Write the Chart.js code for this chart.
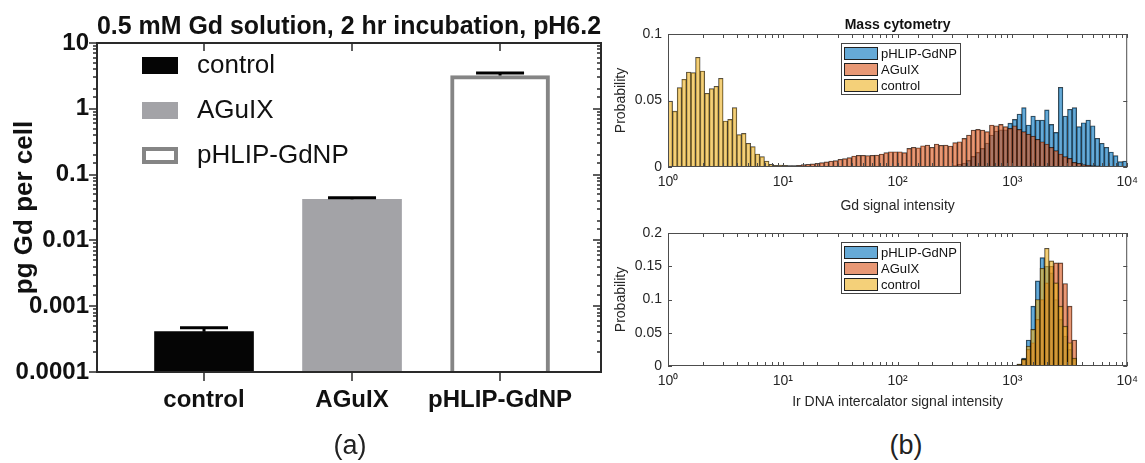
<!DOCTYPE html>
<html lang="en">
<head>
    <meta charset="UTF-8" />
    <title>Gd uptake and mass cytometry</title>
    <style>
        body { margin: 0; width: 1145px; height: 463px; background: #fff; position: relative; overflow: hidden;
               font-family: "Liberation Sans", Arial, sans-serif; }
        canvas { position: absolute; }
        .panel { position: absolute; font-size: 27px; color: #222; transform: translate(-50%, -50%); }
    </style>
</head>
<body>
    <canvas id="uptakeChart" width="620" height="430" style="left:0;top:0;"></canvas>
    <canvas id="gdChart" width="545" height="220" style="left:600px;top:0;"></canvas>
    <canvas id="irChart" width="545" height="205" style="left:600px;top:215px;"></canvas>
    <div class="panel" style="left:350px;top:445px;">(a)</div>
    <div class="panel" style="left:906px;top:445px;">(b)</div>

    <script src="https://cdn.jsdelivr.net/npm/chart.js"></script>
    <script>
        // ---- (a) Gd per cell ----
        const groups = ['control', 'AGuIX', 'pHLIP-GdNP'];
        const gdPerCell = [0.00041, 0.042, 3.2];
        const gdPerCellHigh = [0.00047, 0.0445, 3.5];   // top of error bar

        // ---- (b) mass cytometry histograms, bins of 0.04 decades starting at 10^0 ----
        const binWidthDec = 0.04;

        const gdControlStart = 0;
        const gdControl = [0.0496, 0.042, 0.0597, 0.066, 0.0714, 0.0709, 0.0825, 0.0722, 0.0554, 0.0589,
                           0.0607, 0.0667, 0.0346, 0.0358, 0.0446, 0.0243, 0.0253, 0.0178, 0.0153, 0.0098,
                           0.0078, 0.0045, 0.002, 0.0013, 0.0015, 0.0012, 0.001, 0.0008, 0.0005, 0.0003];
        const gdAguixStart = 24;
        const gdAguix = [0.0003, 0.0005, 0.0008, 0.001, 0.0013, 0.0018, 0.002, 0.0023, 0.0028, 0.0033,
                         0.0038, 0.0045, 0.0048, 0.0058, 0.0063, 0.007, 0.0083, 0.0088, 0.0088, 0.0086,
                         0.0088, 0.009, 0.0098, 0.0108, 0.0115, 0.0115, 0.0115, 0.0108, 0.014, 0.0148,
                         0.0145, 0.016, 0.0165, 0.0148, 0.0173, 0.0163, 0.0165, 0.0158, 0.0183, 0.019,
                         0.0215, 0.024, 0.0278, 0.0283, 0.0278, 0.0266, 0.0316, 0.031, 0.032, 0.0303,
                         0.029, 0.031, 0.0283, 0.0266, 0.0248, 0.0233, 0.0208, 0.019, 0.0173, 0.0148,
                         0.0123, 0.0098, 0.0078, 0.0065, 0.0035, 0.0028, 0.0018, 0.0015, 0.001, 0.0008,
                         0.0005, 0.0005, 0.0004, 0.0003, 0.0002, 0.0002];
        const gdPhlipStart = 62;
        const gdPhlip = [0.001, 0.002, 0.003, 0.005, 0.008, 0.011, 0.014, 0.018, 0.024, 0.027,
                         0.028, 0.028, 0.033, 0.0358, 0.0398, 0.0446, 0.0316, 0.0383, 0.0353, 0.0353,
                         0.0429, 0.032, 0.026, 0.0599, 0.0383, 0.0434, 0.0446, 0.0303, 0.0333, 0.0353,
                         0.031, 0.0216, 0.0178, 0.0148, 0.0113, 0.0085, 0.004, 0.0045];

        const irStart = 76;
        const irPhlip = [0.003, 0.012, 0.039, 0.090, 0.128, 0.163, 0.150, 0.140, 0.100, 0.070, 0.045, 0.025, 0.010];
        const irAguix = [0.002, 0.010, 0.025, 0.035, 0.070, 0.100, 0.125, 0.150, 0.155, 0.155, 0.124, 0.090, 0.039];
        const irControl = [0.003, 0.010, 0.030, 0.055, 0.100, 0.147, 0.177, 0.158, 0.125, 0.090, 0.060, 0.035, 0.012];

        const phlipColor = 'rgba(0, 114, 189, 0.6)';
        const aguixColor = 'rgba(217, 83, 25, 0.6)';
        const controlColor = 'rgba(237, 177, 32, 0.6)';
        const histEdge = 'rgba(0, 0, 0, 0.75)';

        const FONT = '"Liberation Sans", Arial, sans-serif';
        Chart.defaults.font.family = FONT;
        Chart.defaults.color = '#111';

        const isDecade = v => Math.abs(Math.log10(v) - Math.round(Math.log10(v))) < 1e-6;
        const supDigits = { '0': '\u2070', '1': '\u00b9', '2': '\u00b2', '3': '\u00b3', '4': '\u2074' };

        // frame + ticks for the GraphPad style panel
        const prismFrame = {
            id: 'prismFrame',
            afterDatasetsDraw(chart) {
                const { ctx, chartArea: a, scales: { x, y } } = chart;
                ctx.save();
                ctx.strokeStyle = '#2a2a2a';
                ctx.lineWidth = 2;
                ctx.strokeRect(a.left, a.top, a.right - a.left, a.bottom - a.top);
                ctx.beginPath();
                y.ticks.forEach(t => {
                    const py = Math.round(y.getPixelForValue(t.value));
                    const len = isDecade(t.value) ? 8 : 4;
                    ctx.moveTo(a.left - len, py); ctx.lineTo(a.left, py);
                    ctx.moveTo(a.right, py); ctx.lineTo(a.right - len, py);
                });
                x.ticks.forEach(t => {
                    const px = Math.round(x.getPixelForValue(t.value));
                    ctx.moveTo(px, a.bottom); ctx.lineTo(px, a.bottom + 9);
                    ctx.moveTo(px, a.top); ctx.lineTo(px, a.top + 8);
                });
                ctx.lineWidth = 1.5;
                ctx.stroke();
                ctx.restore();
            }
        };

        const errorCaps = {
            id: 'errorCaps',
            afterDatasetsDraw(chart) {
                const { ctx, scales: { x, y } } = chart;
                ctx.save();
                ctx.strokeStyle = '#000';
                ctx.lineWidth = 3;
                gdPerCell.forEach((v, i) => {
                    const px = x.getPixelForValue(i + 1);
                    const top = y.getPixelForValue(gdPerCellHigh[i]);
                    ctx.beginPath();
                    ctx.moveTo(px, y.getPixelForValue(v));
                    ctx.lineTo(px, top);
                    ctx.moveTo(px - 24, top);
                    ctx.lineTo(px + 24, top);
                    ctx.stroke();
                });
                ctx.restore();
            }
        };

        const prismLegend = {
            id: 'prismLegend',
            afterDraw(chart) {
                const { ctx } = chart;
                const ds = chart.data.datasets[0];
                ctx.save();
                ctx.font = '26px ' + FONT;
                ctx.textBaseline = 'middle';
                groups.forEach((g, i) => {
                    const top = 57 + i * 45;
                    ctx.fillStyle = ds.backgroundColor[i];
                    ctx.fillRect(142, top, 36, 17);
                    if (ds.borderWidth[i] > 0) {
                        ctx.strokeStyle = ds.borderColor[i];
                        ctx.lineWidth = 4;
                        ctx.strokeRect(144, top + 2, 32, 13);
                    }
                    ctx.fillStyle = '#111';
                    ctx.fillText(g, 197, top + 9);
                });
                ctx.restore();
            }
        };

        new Chart(document.getElementById('uptakeChart'), {
            type: 'bar',
            data: {
                datasets: [{
                    data: gdPerCell.map((v, i) => ({ x: i + 1, y: v })),
                    backgroundColor: ['#050505', '#a3a3a7', '#ffffff'],
                    borderColor: ['#050505', '#a3a3a7', '#858585'],
                    borderWidth: [0, 0, 4],
                    barThickness: 99
                }]
            },
            options: {
                responsive: false,
                animation: false,
                layout: { padding: { left: 0, right: 19, top: 0, bottom: 0 } },
                plugins: {
                    legend: { display: false },
                    tooltip: { enabled: false },
                    title: {
                        display: true, fullSize: false, color: '#111',
                        text: '0.5 mM Gd solution, 2 hr incubation, pH6.2',
                        font: { size: 25, weight: 'bold', lineHeight: '26px' },
                        padding: { top: 14, bottom: 3 }
                    }
                },
                scales: {
                    x: {
                        type: 'linear', min: 0.277, max: 3.682, offset: false,
                        grid: { display: false, drawTicks: false }, border: { display: false },
                        afterBuildTicks: s => { s.ticks = groups.map((g, i) => ({ value: i + 1 })); },
                        afterFit: s => { s.height = 58; },
                        ticks: {
                            autoSkip: false, maxRotation: 0, padding: 14, color: '#111',
                            font: { size: 24, weight: 'bold' },
                            callback: v => groups[v - 1]
                        }
                    },
                    y: {
                        type: 'logarithmic', min: 0.0001, max: 10,
                        grid: { display: false, drawTicks: false }, border: { display: false },
                        afterFit: s => { s.width = 97; },
                        ticks: {
                            autoSkip: false, padding: 8, color: '#111',
                            font: { size: 24, weight: 'bold' },
                            callback: v => isDecade(v) ? String(Number(v.toPrecision(1))) : ''
                        },
                        title: {
                            display: true, text: 'pg Gd per cell', color: '#111',
                            font: { size: 26, weight: 'bold' },
                            padding: { top: 9, bottom: 0 }
                        }
                    }
                }
            },
            plugins: [errorCaps, prismFrame, prismLegend]
        });

        // ---- MATLAB style histograms ----
        function histPoints(start, values) {
            return values.map((p, k) => ({ x: Math.pow(10, (start + k + 0.5) * binWidthDec), y: p }));
        }

        function histDataset(label, color, start, values) {
            return {
                label, data: histPoints(start, values),
                backgroundColor: color, borderColor: histEdge, borderWidth: 0.7,
                borderSkipped: false, grouped: false,
                categoryPercentage: 1, barPercentage: 1
            };
        }

        const matlabBox = {
            id: 'matlabBox',
            afterDatasetsDraw(chart) {
                const { ctx, chartArea: a, scales: { x, y } } = chart;
                ctx.save();
                ctx.strokeStyle = '#4d4d4d';
                ctx.lineWidth = 1;
                ctx.beginPath();
                x.ticks.forEach(t => {
                    const px = Math.round(x.getPixelForValue(t.value)) + 0.5;
                    ctx.moveTo(px, a.bottom); ctx.lineTo(px, a.bottom - 4);
                    ctx.moveTo(px, a.top); ctx.lineTo(px, a.top + 4);
                });
                y.ticks.forEach(t => {
                    const py = Math.round(y.getPixelForValue(t.value)) + 0.5;
                    ctx.moveTo(a.left, py); ctx.lineTo(a.left + 4, py);
                    ctx.moveTo(a.right, py); ctx.lineTo(a.right - 4, py);
                });
                ctx.stroke();
                ctx.strokeRect(a.left + 0.5, a.top + 0.5, a.right - a.left - 1, a.bottom - a.top - 1);
                ctx.restore();
            }
        };

        const matlabLegend = {
            id: 'matlabLegend',
            afterDraw(chart) {
                const { ctx, chartArea: a } = chart;
                const left = a.left + 173, top = a.top + 9;
                const entries = chart.data.datasets.slice().reverse();
                ctx.save();
                ctx.fillStyle = '#fff';
                ctx.fillRect(left, top, 119, 51);
                ctx.strokeStyle = '#444';
                ctx.lineWidth = 1;
                ctx.strokeRect(left + 0.5, top + 0.5, 119, 51);
                ctx.font = '13px ' + FONT;
                ctx.textBaseline = 'middle';
                entries.forEach((d, i) => {
                    const ry = top + 4 + i * 16;
                    ctx.fillStyle = d.backgroundColor;
                    ctx.fillRect(left + 3, ry, 34, 13);
                    ctx.strokeStyle = '#222';
                    ctx.strokeRect(left + 3.5, ry + 0.5, 33, 12);
                    ctx.fillStyle = '#111';
                    ctx.fillText(d.label, left + 40, ry + 7);
                });
                ctx.restore();
            }
        };

        function histOptions(title, xTitle, yMax, xTitlePad, padTop) {
            return {
                responsive: false,
                animation: false,
                layout: { padding: { left: 0, right: 13, top: padTop, bottom: 0 } },
                plugins: {
                    legend: { display: false },
                    tooltip: { enabled: false },
                    title: {
                        display: !!title, text: title, fullSize: false, color: '#111',
                        font: { size: 14, weight: 'bold', lineHeight: '14px' },
                        padding: { top: 18, bottom: 2 }
                    }
                },
                scales: {
                    x: {
                        type: 'logarithmic', min: 1, max: 10000, offset: false,
                        grid: { display: false, drawTicks: false, offset: false }, border: { display: false },
                        afterFit: s => { s.height = xTitlePad.h; },
                        ticks: {
                            autoSkip: false, maxRotation: 0, padding: 7, color: '#262626',
                            font: { size: 14 },
                            callback: v => isDecade(v) ? '10' + supDigits[String(Math.round(Math.log10(v)))] : ''
                        },
                        title: {
                            display: true, text: xTitle, color: '#262626',
                            font: { size: 14 }, padding: { top: 0, bottom: xTitlePad.pad }
                        }
                    },
                    y: {
                        min: 0, max: yMax,
                        grid: { display: false, drawTicks: false }, border: { display: false },
                        afterFit: s => { s.width = 68; },
                        ticks: {
                            stepSize: 0.05, padding: 6, color: '#262626', font: { size: 14 },
                            callback: v => String(Number(v.toFixed(2)))
                        },
                        title: {
                            display: true, text: 'Probability', color: '#262626',
                            font: { size: 14 }, padding: { top: 13, bottom: 0 }
                        }
                    }
                }
            };
        }

        new Chart(document.getElementById('gdChart'), {
            type: 'bar',
            data: {
                datasets: [
                    histDataset('control', controlColor, gdControlStart, gdControl),
                    histDataset('AGuIX', aguixColor, gdAguixStart, gdAguix),
                    histDataset('pHLIP-GdNP', phlipColor, gdPhlipStart, gdPhlip)
                ]
            },
            options: histOptions('Mass cytometry', 'Gd signal intensity', 0.1, { h: 53, pad: 5 }, 0),
            plugins: [matlabBox, matlabLegend]
        });

        new Chart(document.getElementById('irChart'), {
            type: 'bar',
            data: {
                datasets: [
                    histDataset('control', controlColor, irStart, irControl),
                    histDataset('AGuIX', aguixColor, irStart, irAguix),
                    histDataset('pHLIP-GdNP', phlipColor, irStart, irPhlip)
                ]
            },
            options: histOptions('', 'Ir DNA intercalator signal intensity', 0.2, { h: 54, pad: 9 }, 18),
            plugins: [matlabBox, matlabLegend]
        });
    </script>
</body>
</html>
